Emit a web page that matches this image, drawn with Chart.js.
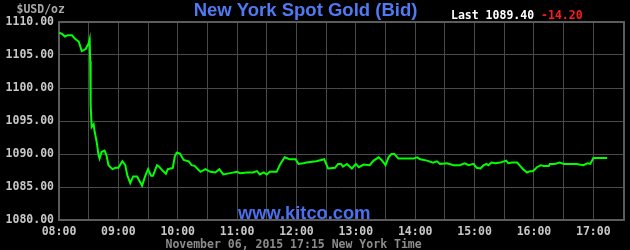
<!DOCTYPE html>
<html>
<head>
<meta charset="utf-8">
<script src="https://cdn.jsdelivr.net/npm/chart.js@4"></script>
<style>
  html, body { margin:0; padding:0; background:#000; }
  #wrap { width:630px; height:250px; }
</style>
</head>
<body>
<div id="wrap"><canvas id="c" width="630" height="250"></canvas></div>
<script>
// minutes after 08:00 New York time
const minutes = [0,3,6,9,13,16,20,23,27,30,31,31.5,32,33,35,36,38,40,41,43,46,48,50,54,57,60,64,67,69,72,75,79,80,84,87,90,93,95,99,101,104,108,110,115,117,119,122,126,131,134,137,143,148,153,158,162,166,173,180,183,190,196,200,203,207,210,213,220,223,228,233,239,242,247,250,254,260,268,272,279,282,285,287,291,296,300,303,308,314,318,323,326,330,333,336,339,343,348,358,362,365,372,378,382,385,392,399,405,410,414,419,422,426,429,432,434,437,441,446,452,454,458,463,466,469,473,476,479,483,487,490,495,496,501,506,510,517,523,530,534,537,540,547,554];
const prices = [1108.4,1108.2,1107.8,1108.0,1108.0,1107.5,1107.0,1105.6,1105.9,1106.8,1107.4,1104.1,1097.4,1094.1,1094.5,1093.4,1091.9,1089.8,1089.3,1090.3,1090.5,1089.8,1088.3,1087.7,1087.9,1087.9,1088.9,1088.3,1086.8,1085.6,1086.6,1086.6,1086.3,1085.2,1086.6,1087.7,1086.7,1086.7,1088.3,1088.1,1087.6,1087.0,1087.7,1087.9,1089.6,1090.2,1090.1,1089.1,1088.9,1088.3,1088.2,1087.3,1087.7,1087.3,1087.2,1087.7,1086.9,1087.1,1087.3,1087.1,1087.2,1087.2,1087.4,1086.9,1087.2,1086.9,1087.3,1087.3,1088.3,1089.5,1089.2,1089.2,1088.5,1088.6,1088.7,1088.8,1088.9,1089.2,1087.8,1087.9,1088.5,1088.5,1088.1,1088.5,1087.8,1088.5,1088.0,1088.4,1088.3,1089.0,1089.5,1089.1,1088.3,1089.5,1090.0,1090.0,1089.3,1089.3,1089.3,1089.5,1089.2,1089.0,1088.7,1088.9,1088.5,1088.6,1088.3,1088.3,1088.6,1088.3,1088.5,1087.9,1087.8,1088.3,1088.5,1088.3,1088.7,1088.6,1088.7,1089.0,1088.6,1088.7,1088.7,1088.2,1087.7,1087.2,1087.4,1087.4,1088.0,1088.3,1088.2,1088.2,1088.5,1088.5,1088.7,1088.5,1088.5,1088.5,1088.3,1088.6,1088.5,1089.4,1089.4,1089.4];
const hourLabels = ['08:00','09:00','10:00','11:00','12:00','13:00','14:00','15:00','16:00','17:00'];
const yMin = 1080, yMax = 1110, yStep = 5;
const xMax = 571;
const titleText = 'New York Spot Gold (Bid)';
const lastText = 'Last 1089.40';
const changeText = '-14.20';
const unitText = '$USD/oz';
const siteText = 'www.kitco.com';
const footerText = 'November 06, 2015 17:15 New York Time';

const MONO = '"DejaVu Sans Mono", monospace';
const SANS = '"Liberation Sans", Arial, sans-serif';

const decor = {
  id: 'decor',
  beforeDraw(chart) {
    const ctx = chart.ctx;
    ctx.save();
    ctx.fillStyle = '#000';
    ctx.fillRect(0, 0, chart.width, chart.height);
    ctx.restore();
  },
  beforeDatasetsDraw(chart) {
    const ctx = chart.ctx, a = chart.chartArea;
    ctx.save();
    ctx.strokeStyle = '#5c5c5c';
    ctx.lineWidth = 2;
    ctx.strokeRect(a.left, a.top, a.right - a.left, a.bottom - a.top);
    ctx.font = 'bold 18.3px ' + SANS;
    ctx.fillStyle = '#4a6ff0';
    ctx.textAlign = 'left';
    ctx.textBaseline = 'alphabetic';
    ctx.fillText(siteText, 238, 219);
    ctx.restore();
  },
  afterDraw(chart) {
    const ctx = chart.ctx;
    ctx.save();
    ctx.textBaseline = 'alphabetic';
    ctx.font = 'bold 18.5px ' + SANS;
    ctx.fillStyle = '#5079f2';
    ctx.textAlign = 'center';
    ctx.fillText(titleText, 305.5, 16);
    ctx.textAlign = 'left';
    ctx.font = 'bold 11.5px ' + MONO;
    ctx.fillStyle = '#ffffff';
    ctx.fillText(lastText, 451, 19);
    ctx.fillStyle = '#ff1a1a';
    ctx.fillText(changeText, 451 + 13 * 6.93, 19);
    ctx.fillStyle = '#a8a8a8';
    ctx.fillText(unitText, 16.5, 12.5);
    ctx.fillStyle = '#8c8c8c';
    ctx.fillText(footerText, 165.5, 247.5);
    ctx.restore();
  }
};

new Chart(document.getElementById('c'), {
  type: 'line',
  data: {
    datasets: [{
      data: minutes.map((m, i) => ({ x: m, y: prices[i] })),
      borderColor: '#00ff00',
      borderWidth: 2,
      pointRadius: 0,
      tension: 0,
      fill: false
    }]
  },
  options: {
    responsive: false,
    animation: false,
    events: [],
    layout: { padding: { left: 0, right: 6, top: 22, bottom: 0 } },
    plugins: { legend: { display: false }, tooltip: { enabled: false }, title: { display: false } },
    scales: {
      x: {
        type: 'linear',
        min: 0,
        max: xMax,
        afterFit(s) { s.height = 30; },
        border: { display: false },
        grid: { color: '#4a4a4a', lineWidth: 1, drawTicks: false },
        ticks: {
          stepSize: 30,
          includeBounds: false,
          autoSkip: false,
          maxRotation: 0,
          padding: 5.5,
          color: '#c8c8c8',
          font: { family: MONO, size: 11.5, weight: 'bold' },
          callback: (v) => (v % 60 === 0 ? hourLabels[v / 60] : '')
        }
      },
      y: {
        min: yMin,
        max: yMax,
        afterFit(s) { s.width = 59; },
        border: { display: false },
        grid: { color: '#4a4a4a', lineWidth: 1, drawTicks: false },
        ticks: {
          stepSize: yStep,
          padding: 5,
          color: '#c8c8c8',
          font: { family: MONO, size: 11.5, weight: 'bold' },
          callback: (v) => v.toFixed(2)
        }
      }
    }
  },
  plugins: [decor]
});
</script>
</body>
</html>
